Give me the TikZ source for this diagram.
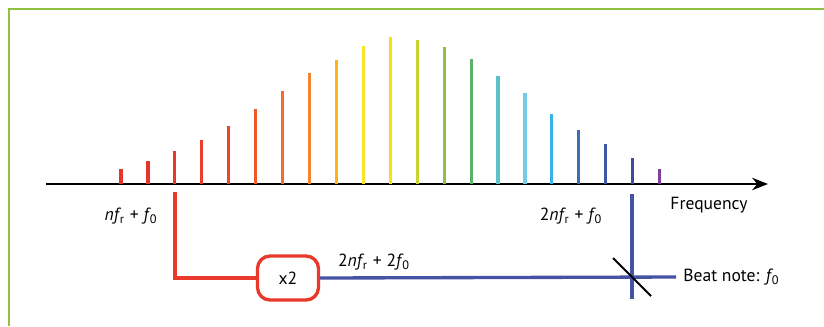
\documentclass[tikz,border=0pt]{standalone}
\usepackage{fontspec}
\setmainfont{PT Sans}
\usepackage{xcolor}
\usepackage{tikz}
\usetikzlibrary{arrows.meta, positioning, calc}

\definecolor{framegreen}{HTML}{8DC13F}
\definecolor{c1}{HTML}{E8332B}
\definecolor{c2}{HTML}{E8332B}
\definecolor{c3}{HTML}{E8372B}
\definecolor{c4}{HTML}{EA3D2C}
\definecolor{c5}{HTML}{EC452C}
\definecolor{c6}{HTML}{EF582C}
\definecolor{c7}{HTML}{F26A2C}
\definecolor{c8}{HTML}{F4842D}
\definecolor{c9}{HTML}{FBB316}
\definecolor{c10}{HTML}{F6E52B}
\definecolor{c11}{HTML}{F3E40D}
\definecolor{c12}{HTML}{C5D52E}
\definecolor{c13}{HTML}{8DC13F}
\definecolor{c14}{HTML}{5DB069}
\definecolor{c15}{HTML}{5CC1C8}
\definecolor{c16}{HTML}{72CCE5}
\definecolor{c17}{HTML}{39B2E6}
\definecolor{c18}{HTML}{3C6DB5}
\definecolor{c19}{HTML}{3E56A6}
\definecolor{c20}{HTML}{3B4DA0}
\definecolor{c21}{HTML}{7E3F98}
\definecolor{combred}{HTML}{E8392B}
\definecolor{combblue}{HTML}{4652A3}

\newcommand{\fsub}[1]{\textit{f}\kern-0.08em\textsubscript{#1}}

\tikzset{
  tooth/.style={line width=1.8pt},
  redline/.style={combred, line width=1.9pt},
  blueline/.style={combblue, line width=1.9pt},
  lbl/.style={font=\fontsize{10}{12}\selectfont, inner sep=1pt},
  doubler/.style={draw=combred, line width=1.9pt, rounded corners=0.25cm, minimum width=1.22cm, minimum height=0.88cm, font=\fontsize{10}{12}\selectfont}
}

\begin{document}
\begin{tikzpicture}[x=0.02cm, y=-0.02cm]
\useasboundingbox (0,0) rectangle (824,326);

% Frame
\draw[framegreen, line width=1.4pt] (9,326) -- (9,9) -- (824,9);

% Frequency axis
\coordinate (ax0) at (46,184);
\coordinate (ax1) at (768,184);
\draw[line width=1.6pt, -{Stealth[length=9pt, width=7pt]}] (ax0) -- (ax1);
\node[lbl] (freq) at (709,205) {Frequency};

% Comb lines
\foreach \h/\c [count=\i] in {14.7/c1, 23/c2, 33/c3, 44/c4, 58/c5, 74.7/c6, 93/c7, 110.7/c8, 124.3/c9, 138.3/c10, 146.7/c11, 144/c12, 137.3/c13, 124.7/c14, 108/c15, 91.3/c16, 69.7/c17, 54/c18, 40/c19, 26.3/c20, 15/c21} {
   \draw[tooth, \c] (121+26.93*\i-26.93, 184) -- ++(0,-\h);
}

% Tapped lines
\coordinate (tapL) at (175,192);
\coordinate (tapR) at (632,194);
\coordinate (tapRend) at (632,299);
\node[lbl] (lowlbl) at (131,216) {\textit{n}\fsub{r}\;+\;\fsub{0}};
\node[lbl] (highlbl) at (571,216) {2\textit{n}\fsub{r}\;+\;\fsub{0}};

% Doubler
\node[doubler] (dbl) at (288,278) {x2};
\draw[redline] (tapL) |- (dbl.west);

\coordinate (beatout) at (676,277);
\draw[blueline] (dbl.east) -- (beatout);
\draw[blueline] (tapR) -- (tapRend);
\node[lbl] (dbllbl) at (374,262) {2\textit{n}\fsub{r}\;+\;2\fsub{0}};

% Beat detection
\coordinate (mix) at (632,277);
\draw[line width=1.2pt] ($(mix)+(-19,-19)$) -- ($(mix)+(19,19)$);
\node[lbl, right=3pt of beatout] (beat) {Beat note: \fsub{0}};
\end{tikzpicture}
\end{document}
